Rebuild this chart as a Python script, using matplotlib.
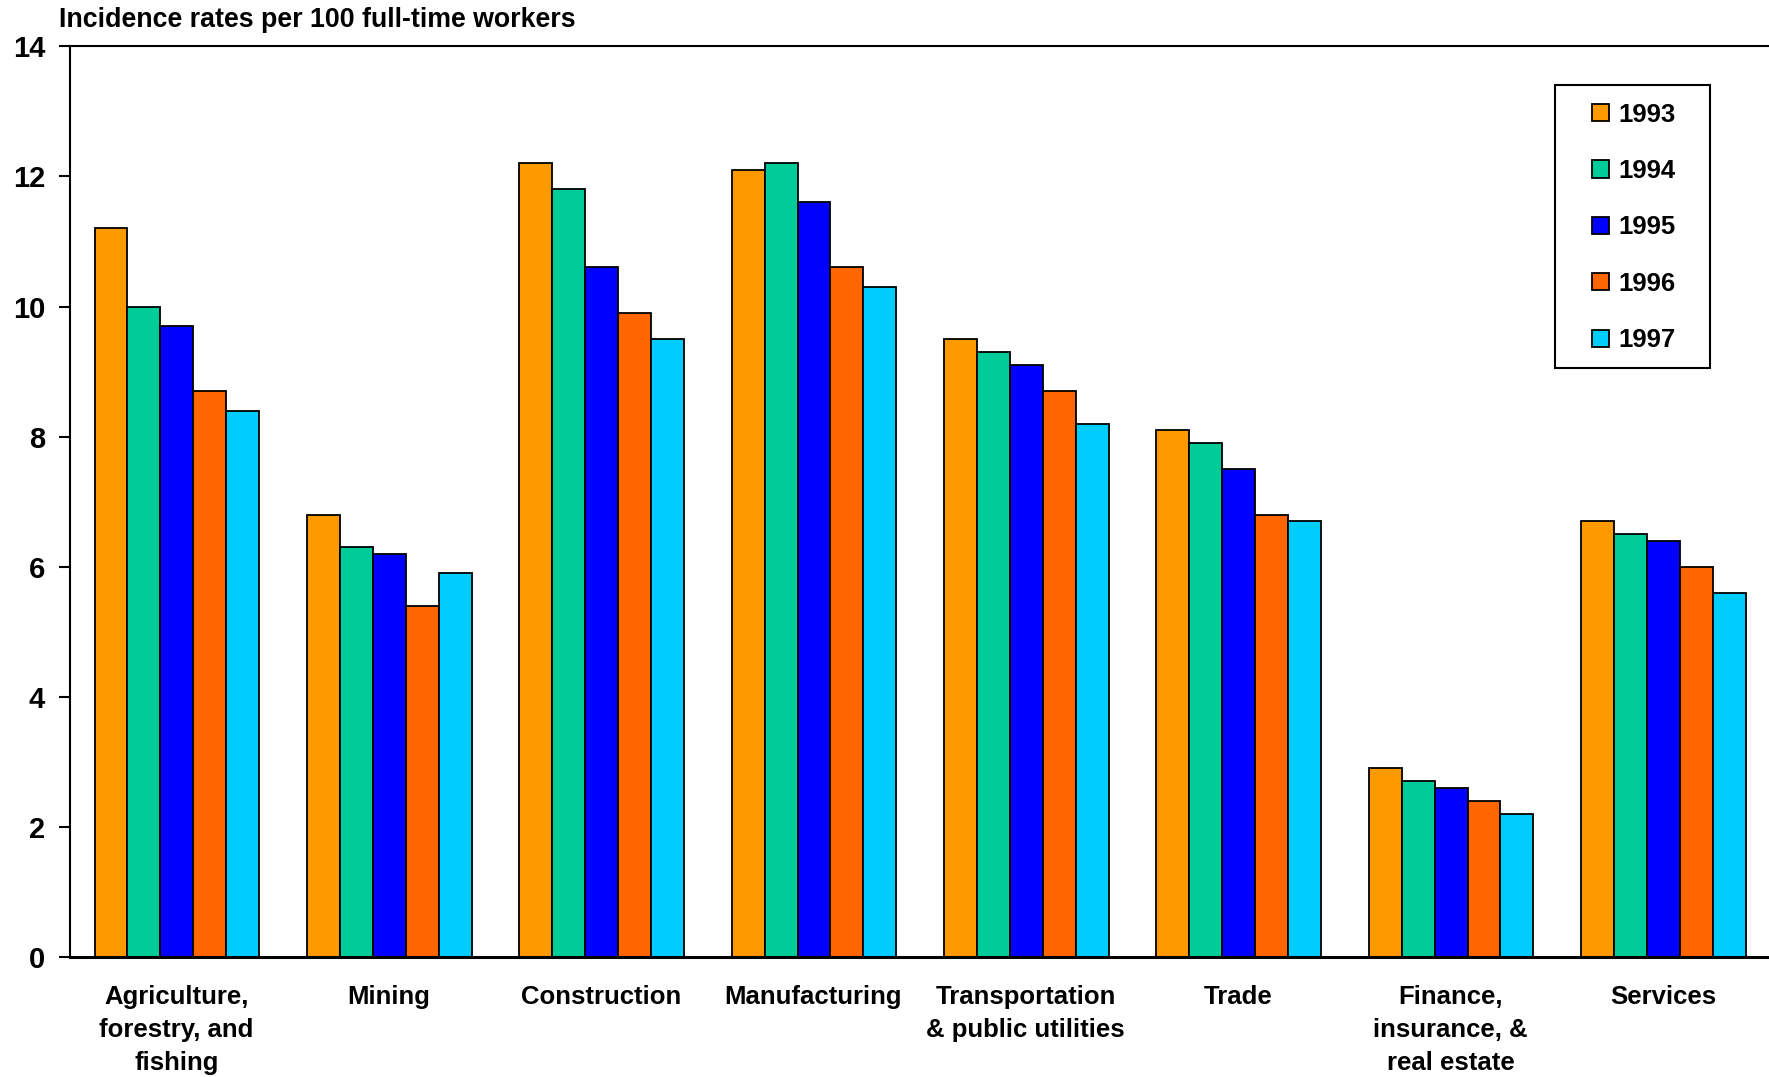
import numpy as np
import matplotlib
matplotlib.use('Agg')
import matplotlib.pyplot as plt
from matplotlib.patches import Rectangle

plt.rcParams['font.family'] = ['Liberation Sans', 'DejaVu Sans']
plt.rcParams['font.weight'] = 'bold'

industries = ['Agriculture,\nforestry, and\nfishing', 'Mining', 'Construction',
              'Manufacturing', 'Transportation\n& public utilities', 'Trade',
              'Finance,\ninsurance, &\nreal estate', 'Services']
years = ['1993', '1994', '1995', '1996', '1997']
colors = ['#FF9900', '#00CC99', '#0000FF', '#FF6600', '#00CCFF']

rate_1993 = [11.2, 6.8, 12.2, 12.1, 9.5, 8.1, 2.9, 6.7]
rate_1994 = [10.0, 6.3, 11.8, 12.2, 9.3, 7.9, 2.7, 6.5]
rate_1995 = [9.7, 6.2, 10.6, 11.6, 9.1, 7.5, 2.6, 6.4]
rate_1996 = [8.7, 5.4, 9.9, 10.6, 8.7, 6.8, 2.4, 6.0]
rate_1997 = [8.4, 5.9, 9.5, 10.3, 8.2, 6.7, 2.2, 5.6]
rates = [rate_1993, rate_1994, rate_1995, rate_1996, rate_1997]

fig = plt.figure(figsize=(17.69, 10.77), dpi=100)
ax = fig.add_axes([0.0396, 0.1114, 0.9604, 0.8456])

x = np.arange(len(industries))
w = 0.155
for i, (yr, vals, c) in enumerate(zip(years, rates, colors)):
    ax.bar(x + (i - 2) * w + 0.003, vals, width=w, color=c, edgecolor='black',
           linewidth=1.3, label=yr, zorder=2)

ax.set_xlim(-0.5, 7.5)
ax.set_ylim(0, 14)
ax.set_yticks(range(0, 15, 2))
ax.set_xticks(x)
ax.set_xticklabels(industries, fontsize=18.5, fontweight='bold', linespacing=1.47)
ax.tick_params(axis='x', length=0, pad=20)
ax.tick_params(axis='y', direction='out', length=8, width=1.5, pad=10,
               labelsize=21)
for lab in ax.get_yticklabels():
    lab.set_fontweight('bold')

ax.spines['right'].set_visible(False)
for s in ['left', 'top', 'bottom']:
    ax.spines[s].set_linewidth(1.5)
ax.spines['bottom'].set_linewidth(2.2)

fig.text(0.0333, 0.981, 'Incidence rates per 100 full-time workers',
         fontsize=19.3, fontweight='bold', va='center', ha='left')

# legend box drawn separately so the padding can differ per side
box = Rectangle((0.8743, 0.6469), 0.0910, 0.3107, transform=ax.transAxes,
                facecolor='white', edgecolor='black', linewidth=1.5, zorder=3)
ax.add_patch(box)
leg = ax.legend(loc='center', bbox_to_anchor=(0.9205, 0.8011),
                fontsize=18.5, frameon=False,
                handlelength=0.65, handleheight=0.65, handletextpad=0.4,
                labelspacing=1.26, borderpad=0, borderaxespad=0)
leg.set_zorder(4)
for t in leg.get_texts():
    t.set_fontweight('bold')

fig.savefig('out.png', dpi=100)
